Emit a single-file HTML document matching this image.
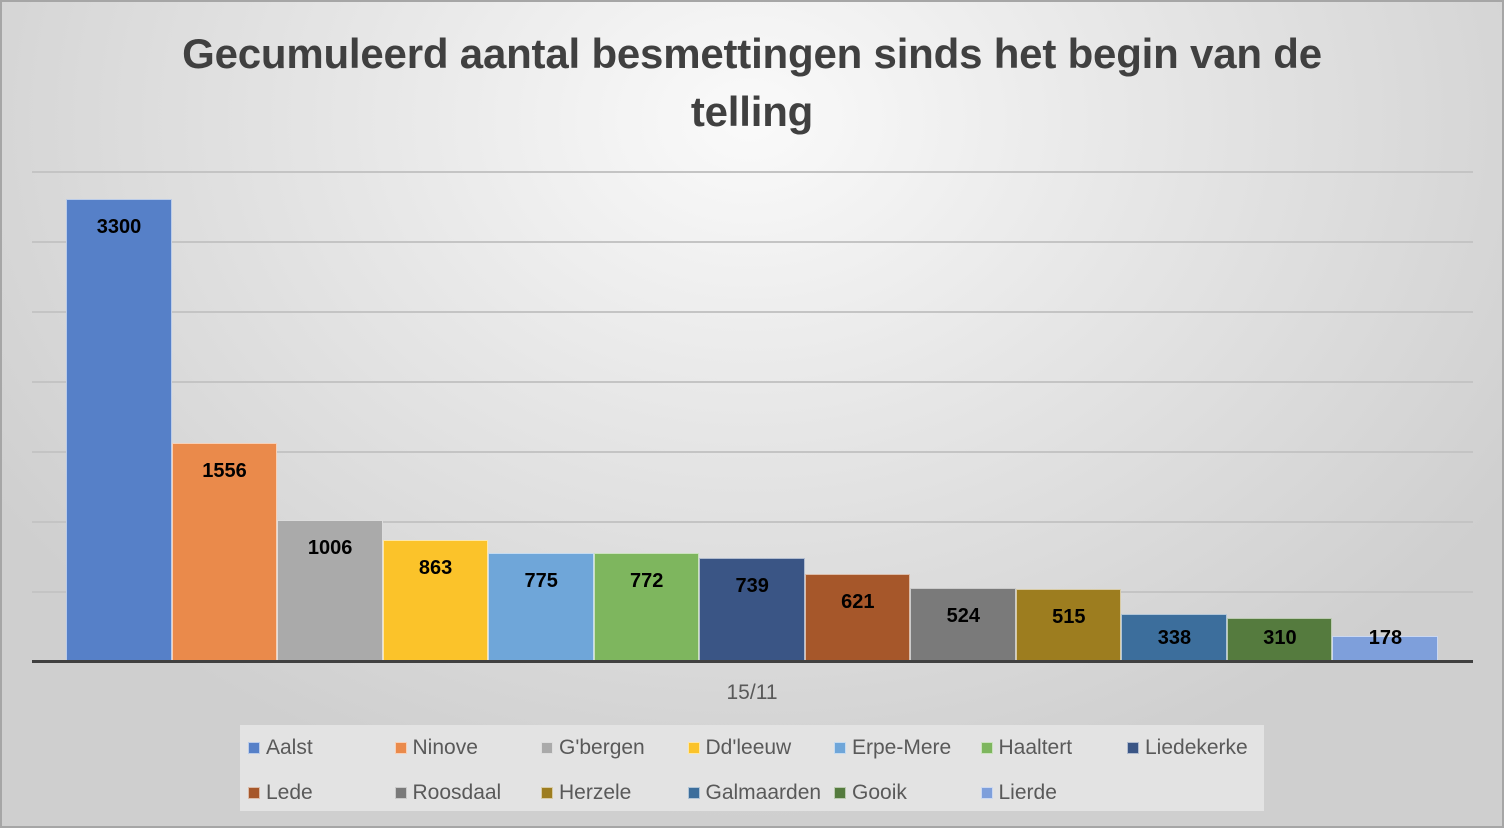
<!DOCTYPE html>
<html><head><meta charset="utf-8"><style>
*{margin:0;padding:0;box-sizing:border-box}
body{width:1504px;height:828px;overflow:hidden;font-family:"Liberation Sans",sans-serif}
#c{position:absolute;left:0;top:0;width:1504px;height:828px;
background:radial-gradient(ellipse 900px 700px at 750px 120px,#fafafa 0%,#e6e6e6 45%,#cfcfcf 100%);}
#bd{position:absolute;left:0;top:0;width:1504px;height:828px;border:2px solid #a6a6a6;z-index:5}
.t{position:absolute;left:0;width:1504px;text-align:center;font-weight:bold;font-size:42px;color:#404040;letter-spacing:-0.2px}
.g{position:absolute;left:32px;width:1441px;height:2px;background:#c4c4c4}
.b{position:absolute;border:1px solid rgba(255,255,255,0.6);border-bottom:none}
.v{position:absolute;width:106px;text-align:center;font-weight:bold;font-size:20px;color:#000}
.lg{position:absolute;left:240px;top:725px;width:1024px;height:86px;background:#e3e3e3}
.li{position:absolute;font-size:21px;color:#595959;white-space:nowrap}
.li i{display:inline-block;width:12px;height:12px;margin-right:6px;vertical-align:0px;border:1px solid rgba(255,255,255,.6)}
</style></head><body><div id="c">
<div class="t" style="top:30px">Gecumuleerd aantal besmettingen sinds het begin van de</div>
<div class="t" style="top:88px">telling</div>
<div class="g" style="top:171px"></div><div class="g" style="top:241px"></div><div class="g" style="top:311px"></div><div class="g" style="top:381px"></div><div class="g" style="top:451px"></div><div class="g" style="top:521px"></div><div class="g" style="top:591px"></div>
<div id="bars"></div>
<div style="position:absolute;left:32px;top:660px;width:1441px;height:3px;background:#404040"></div>
<div style="position:absolute;left:0;width:1504px;top:681px;text-align:center;font-size:21px;color:#595959">15/11</div>
<div class="lg"></div>
<div id="leg"></div>
</div><div id="bd"></div>
<script>
var d=[["Aalst",3300,"#5680c8"],["Ninove",1556,"#ea8a4b"],["G'bergen",1006,"#aaaaaa"],["Dd'leeuw",863,"#fbc32a"],["Erpe-Mere",775,"#6fa6d9"],["Haaltert",772,"#7eb65e"],["Liedekerke",739,"#3a5585"],["Lede",621,"#a6572a"],["Roosdaal",524,"#7a7a7a"],["Herzele",515,"#9d7d1f"],["Galmaarden",338,"#3c6e9c"],["Gooik",310,"#557b3e"],["Lierde",178,"#7e9fdb"]];
var h="",l="";
d.forEach(function(e,i){var x=66+i*105.54,ht=e[1]*0.14,top=661-ht;
h+='<div class="b" style="left:'+x+'px;top:'+top+'px;width:105.5px;height:'+ht+'px;background:'+e[2]+'"></div>';
h+='<div class="v" style="left:'+x+'px;top:'+Math.min(top+17,627)+'px">'+e[1]+'</div>';
var r=Math.floor(i/7),c=i%7;
l+='<div class="li" style="left:'+(248+c*146.5)+'px;top:'+(736+r*45)+'px"><i style="background:'+e[2]+'"></i>'+e[0]+'</div>';});
document.getElementById("bars").innerHTML=h;document.getElementById("leg").innerHTML=l;
</script>
</body></html>
